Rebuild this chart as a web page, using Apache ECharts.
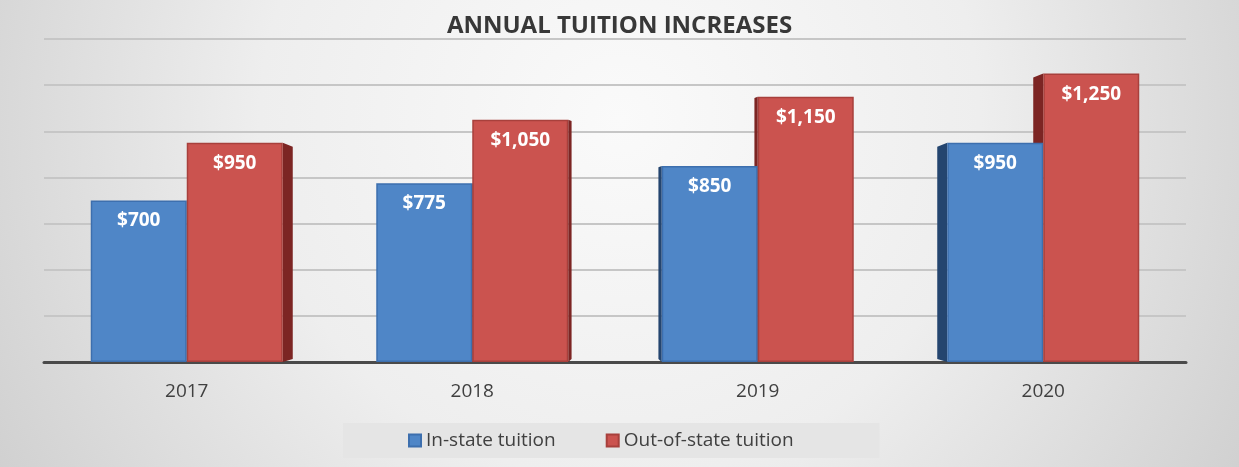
<!DOCTYPE html>
<html>
<head>
<meta charset="utf-8">
<script src="https://cdn.jsdelivr.net/npm/echarts@6/dist/echarts.min.js"></script>
<style>
  html, body { margin: 0; padding: 0; }
  #main { width: 1239px; height: 467px; }
</style>
</head>
<body>
<div id="main"></div>
<script>
// data
var years = ['2017', '2018', '2019', '2020'];
var inState = [700, 775, 850, 950];
var outState = [950, 1050, 1150, 1250];
var seriesNames = ['In-state tuition', 'Out-of-state tuition'];

var BAR_W = 96;
var faceColors = ['#4f86c7', '#cb534f'];
var edgeColors = ['#3d6fae', '#a8403c'];
var sideColors = ['#24456f', '#7c2523'];

var myChart = echarts.init(document.getElementById('main'));

// side faces of the fake 3d bars, built from the same arrays
var sideData = [];
[inState, outState].forEach(function (arr, s) {
    arr.forEach(function (v, i) { sideData.push([i, v, s]); });
});

function renderSide(params, api) {
    var cat = api.value(0), val = api.value(1), s = api.value(2);
    var top = api.coord([cat, val]);
    var base = api.coord([cat, 0]);
    var cs = params.coordSys;
    var mid = cs.x + cs.width / 2;
    var cx = top[0];
    var x0 = cx - BAR_W + s * BAR_W;
    var x1 = x0 + BAR_W;
    var d = (mid - cx) * 10 / 428;
    var ex = d > 0 ? x1 : x0;
    var pts = [[ex, top[1]], [ex + d, top[1] + Math.abs(d) * 0.4], [ex + d, base[1] - 3], [ex, base[1]]];
    return {
        type: 'polygon',
        shape: { points: pts },
        style: { fill: sideColors[s] }
    };
}

var labelStyle = {
    show: true,
    position: 'insideTop',
    distance: 11,
    color: '#fff',
    fontFamily: 'Open Sans',
    fontWeight: 'bold',
    fontSize: 19,
    formatter: function (p) { return '$' + p.value.toLocaleString('en-US'); }
};

var option = {
    animation: false,
    graphic: [{
        type: 'rect',
        z: -10,
        shape: { x: 0, y: 0, width: 1239, height: 467 },
        style: {
            fill: {
                type: 'radial', x: 620, y: 120, r: 800, global: true,
                colorStops: [
                    { offset: 0, color: '#fafafa' },
                    { offset: 0.45, color: '#eeeeee' },
                    { offset: 1, color: '#c9c9c9' }
                ]
            }
        }
    }],
    title: {
        text: 'ANNUAL TUITION INCREASES',
        left: 'center',
        top: 9,
        textStyle: { fontFamily: 'Open Sans', fontWeight: 'bold', fontSize: 24, color: '#383838' }
    },
    legend: {
        data: seriesNames,
        icon: 'rect',
        left: 343,
        top: 423,
        padding: [8, 86, 8, 65],
        itemGap: 50,
        itemWidth: 12,
        itemHeight: 12,
        backgroundColor: '#e5e5e5',
        textStyle: { fontFamily: 'Open Sans', fontSize: 19, color: '#404040' }
    },
    grid: { left: 44, right: 53, top: 39, bottom: 105 },
    xAxis: {
        type: 'category',
        data: years,
        axisTick: { show: false },
        axisLine: { lineStyle: { color: '#4a4a4a', width: 3 } },
        axisLabel: { margin: 20, fontFamily: 'Open Sans', fontSize: 19, color: '#404040' }
    },
    yAxis: {
        type: 'value',
        min: 0,
        max: 1400,
        interval: 200,
        axisLabel: { show: false },
        axisLine: { show: false },
        axisTick: { show: false },
        splitLine: { lineStyle: { color: '#c6c6c6', width: 2 } }
    },
    series: [
        {
            name: 'sides',
            type: 'custom',
            z: 1,
            silent: true,
            renderItem: renderSide,
            data: sideData
        },
        {
            name: seriesNames[0],
            type: 'bar',
            z: 3,
            barWidth: BAR_W,
            barGap: '0%',
            itemStyle: { color: faceColors[0], borderColor: edgeColors[0], borderWidth: 1.5 },
            label: labelStyle,
            data: inState
        },
        {
            name: seriesNames[1],
            type: 'bar',
            z: 3,
            barWidth: BAR_W,
            barGap: '0%',
            itemStyle: { color: faceColors[1], borderColor: edgeColors[1], borderWidth: 1.5 },
            label: labelStyle,
            data: outState
        }
    ]
};
myChart.setOption(option);
</script>
</body>
</html>
